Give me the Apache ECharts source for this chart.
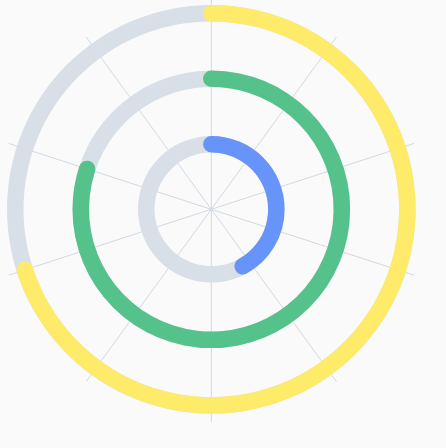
<!DOCTYPE html>
<html>
<head>
<meta charset="utf-8">
<script src="https://cdn.jsdelivr.net/npm/echarts@6/dist/echarts.min.js"></script>
<style>
html,body{margin:0;padding:0;background:#fafafa;}
#chart{width:446px;height:448px;}
</style>
</head>
<body>
<div id="chart"></div>
<script>
var categories = ['Inner', 'Middle', 'Outer'];
var values = [42, 80, 70];
var angleMax = 100;
var angleInterval = 10;

var ringColors = ['#6794f9', '#55c28b', '#feeb6a'];

var chart = echarts.init(document.getElementById('chart'), null, {renderer: 'canvas'});
var option = {
  backgroundColor: '#fafafa',
  animation: false,
  polar: [
    {center: [211.3, 209.3], radius: 213},
    {center: [211.3, 209.3], radius: [32.3, 228.8]}
  ],
  angleAxis: [
    {
      polarIndex: 0, type: 'value', min: 0, max: angleMax, interval: angleInterval,
      startAngle: 90, clockwise: true,
      axisLine: {show: false}, axisTick: {show: false}, axisLabel: {show: false},
      splitLine: {show: true, lineStyle: {color: '#d3d9e2', width: 1}}
    },
    {
      polarIndex: 1, type: 'value', min: 0, max: angleMax,
      startAngle: 90, clockwise: true,
      axisLine: {show: false}, axisTick: {show: false}, axisLabel: {show: false},
      splitLine: {show: false}
    }
  ],
  radiusAxis: [
    {polarIndex: 0, type: 'value', show: false, splitLine: {show: false}},
    {
      polarIndex: 1, type: 'category', data: categories,
      axisLine: {show: false}, axisTick: {show: false}, axisLabel: {show: false},
      splitLine: {show: false}
    }
  ],
  series: [{
    type: 'bar',
    coordinateSystem: 'polar',
    polarIndex: 1,
    roundCap: true,
    barWidth: 16.5,
    showBackground: true,
    backgroundStyle: {color: '#d9dfe7'},
    data: values.map(function (v, i) {
      return {value: v, itemStyle: {color: ringColors[i]}};
    })
  }]
};
chart.setOption(option);
</script>
</body>
</html>
